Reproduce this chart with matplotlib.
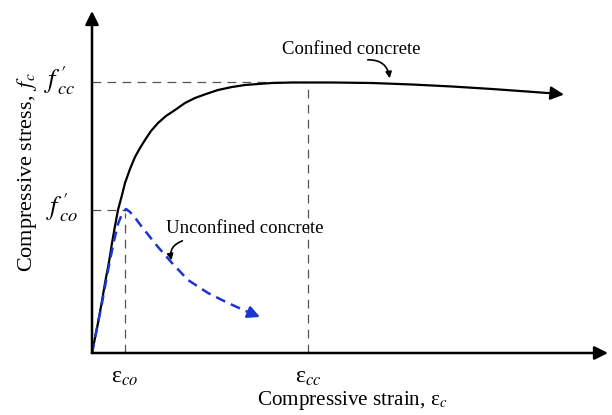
import matplotlib.pyplot as plt

plt.rcParams['font.family'] = ['Liberation Serif', 'DejaVu Serif']
plt.rcParams['mathtext.fontset'] = 'stix'

# strain / stress in drawing units (schematic, no real scale)
conf_strain = [0, 0.03, 0.06, 0.10, 0.13, 0.17, 0.20, 0.23, 0.26, 0.30, 0.33, 0.38, 0.43, 0.48,
               0.53, 0.59, 0.66, 0.74, 0.83, 0.93, 1.03, 1.14, 1.26, 1.40, 1.53, 1.66, 1.80,
               2.00, 2.13, 2.40, 2.80, 3.20, 3.60, 4.00, 4.35, 4.62]
conf_stress = [0, 0.15, 0.30, 0.52, 0.70, 0.91, 1.10, 1.27, 1.43, 1.58, 1.70, 1.84, 1.96, 2.05,
               2.13, 2.22, 2.30, 2.37, 2.43, 2.50, 2.55, 2.59, 2.63, 2.66, 2.68, 2.69, 2.70,
               2.705, 2.705, 2.705, 2.70, 2.685, 2.665, 2.64, 2.615, 2.595]
conf_tip = (4.72, 2.585)

unconf_strain = [0, 0.05, 0.10, 0.14, 0.18, 0.22, 0.26, 0.30, 0.34, 0.38, 0.44, 0.50, 0.58, 0.66,
                 0.80, 0.96, 1.16, 1.36, 1.56]
unconf_stress = [0, 0.25, 0.50, 0.72, 0.93, 1.12, 1.29, 1.39, 1.44, 1.41, 1.34, 1.26, 1.16, 1.06,
                 0.90, 0.73, 0.60, 0.50, 0.41]
unconf_tip = (1.68, 0.36)

eps_co, f_co = 0.33, 1.43
eps_cc, f_cc = 2.16, 2.705

fig = plt.figure(figsize=(6.12, 4.15), dpi=100)
ax = fig.add_axes([0, 0, 1, 1])
ax.set_xlim(-0.92, 5.20)
ax.set_ylim(-0.62, 3.53)
ax.axis('off')

# axes with arrows
ax.annotate('', xy=(5.16, 0), xytext=(0, 0),
            arrowprops=dict(arrowstyle='-|>', lw=1.8, color='black', mutation_scale=20, shrinkA=0, shrinkB=0))
ax.annotate('', xy=(0, 3.42), xytext=(0, 0),
            arrowprops=dict(arrowstyle='-|>', lw=1.8, color='black', mutation_scale=20, shrinkA=0, shrinkB=0))

# guide lines
gkw = dict(color='#555555', lw=0.9, dashes=(7, 5))
ax.plot([0, eps_cc], [f_cc, f_cc], **gkw)
ax.plot([eps_cc, eps_cc], [0, f_cc - 0.05], **gkw)
ax.plot([0, eps_co], [f_co, f_co], **gkw)
ax.plot([eps_co, eps_co], [0, f_co - 0.03], **gkw)

# confined curve
ax.plot(conf_strain, conf_stress, color='black', lw=1.6)
ax.annotate('', xy=conf_tip, xytext=(conf_strain[-1], conf_stress[-1]),
            arrowprops=dict(arrowstyle='-|>', lw=1.6, color='black', mutation_scale=20, shrinkA=0, shrinkB=0))

# unconfined curve
ax.plot(unconf_strain, unconf_stress, color='#1a35d0', lw=1.8, dashes=(4, 2.5))
ax.annotate('', xy=unconf_tip, xytext=(unconf_strain[-1], unconf_stress[-1]),
            arrowprops=dict(arrowstyle='-|>', lw=1.8, color='#1a35d0', mutation_scale=18, shrinkA=0, shrinkB=0))

# labels
ax.text(2.59, 3.03, 'Confined concrete', fontsize=13.5, ha='center', va='center')
ax.annotate('', xy=(2.98, 2.72), xytext=(2.73, 2.93),
            arrowprops=dict(arrowstyle='-|>', lw=1.2, color='black', mutation_scale=9,
                            connectionstyle='arc3,rad=-0.5'))
ax.text(1.53, 1.25, 'Unconfined concrete', fontsize=13.5, ha='center', va='center')
ax.annotate('', xy=(0.80, 0.90), xytext=(0.93, 1.13),
            arrowprops=dict(arrowstyle='-|>', lw=1.2, color='black', mutation_scale=9,
                            connectionstyle='arc3,rad=0.5'))

ax.text(-0.32, f_cc + 0.02, r"$f^{\,\prime}_{\,cc}$", fontsize=19, ha='center', va='center')
ax.text(-0.30, f_co + 0.02, r"$f^{\,\prime}_{\,co}$", fontsize=19, ha='center', va='center')
ax.text(eps_co, -0.24, r"ε$_{co}$", fontsize=17, ha='center', va='center')
ax.text(eps_cc, -0.24, r"ε$_{cc}$", fontsize=17, ha='center', va='center')

ax.text(2.60, -0.47, r"Compressive strain, ε$_{c}$", fontsize=15.2, ha='center', va='center')
ax.text(-0.65, 1.81, r"Compressive stress, $\,f_{c}$", fontsize=16, ha='center', va='center', rotation=90)

fig.savefig('out.png', dpi=100)
